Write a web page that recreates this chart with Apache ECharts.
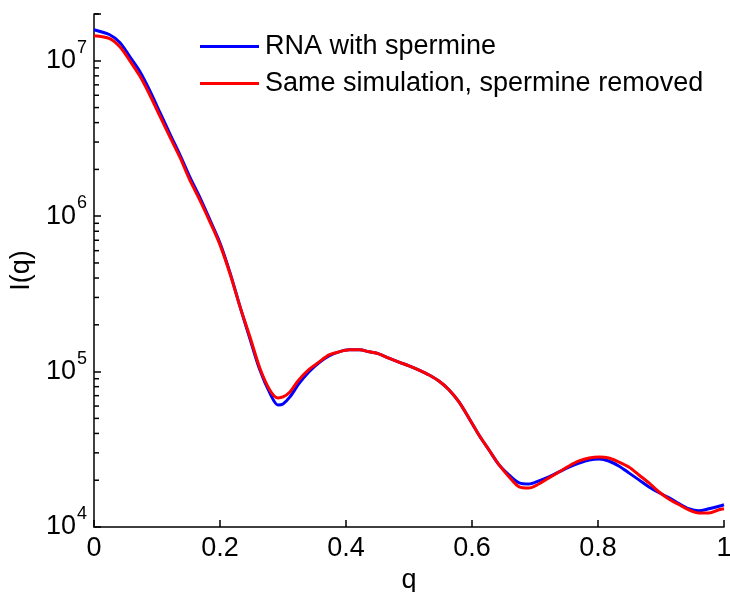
<!DOCTYPE html>
<html>
<head>
<meta charset="utf-8">
<script src="https://cdn.jsdelivr.net/npm/echarts@6/dist/echarts.min.js"></script>
<style>
html,body{margin:0;padding:0;background:#fff;}
#chart{width:730px;height:592px;}
</style>
</head>
<body>
<div id="chart"></div>
<script>
// q values (x)
var qBlue = [0.000,0.025,0.041,0.057,0.073,0.089,0.105,0.121,0.137,0.152,0.168,0.184,0.200,0.216,0.232,0.248,0.263,0.279,0.292,0.300,0.311,0.325,0.341,0.357,0.373,0.389,0.405,0.421,0.437,0.452,0.468,0.484,0.500,0.516,0.532,0.548,0.563,0.579,0.595,0.611,0.627,0.643,0.659,0.675,0.690,0.706,0.722,0.738,0.754,0.770,0.786,0.802,0.817,0.833,0.849,0.865,0.881,0.897,0.913,0.929,0.944,0.960,0.976,0.992,1.000];
var iBlue = [1.585e7,1.47e7,1.31e7,1.06e7,8.51e6,6.38e6,4.62e6,3.35e6,2.45e6,1.79e6,1.32e6,9.47e5,6.73e5,4.32e5,2.60e5,1.60e5,1.03e5,7.29e4,6.10e4,6.19e4,6.87e4,8.33e4,9.95e4,1.14e5,1.26e5,1.34e5,1.38e5,1.38e5,1.34e5,1.30e5,1.22e5,1.15e5,1.09e5,1.023e5,9.51e4,8.67e4,7.67e4,6.40e4,5.03e4,3.91e4,3.13e4,2.51e4,2.16e4,1.92e4,1.89e4,1.98e4,2.10e4,2.26e4,2.43e4,2.58e4,2.70e4,2.74e4,2.66e4,2.47e4,2.23e4,2.01e4,1.81e4,1.66e4,1.54e4,1.41e4,1.31e4,1.27e4,1.31e4,1.36e4,1.39e4];
var qRed = qBlue;
var iRed = [1.45e7,1.39e7,1.23e7,1.00e7,7.94e6,5.98e6,4.37e6,3.20e6,2.36e6,1.71e6,1.27e6,9.20e5,6.54e5,4.25e5,2.60e5,1.65e5,1.06e5,7.62e4,6.77e4,6.87e4,7.40e4,8.84e4,1.03e5,1.15e5,1.28e5,1.34e5,1.38e5,1.38e5,1.34e5,1.30e5,1.22e5,1.15e5,1.09e5,1.023e5,9.51e4,8.67e4,7.67e4,6.40e4,5.03e4,3.91e4,3.13e4,2.51e4,2.10e4,1.81e4,1.78e4,1.89e4,2.07e4,2.26e4,2.47e4,2.66e4,2.78e4,2.82e4,2.78e4,2.62e4,2.43e4,2.16e4,1.92e4,1.68e4,1.51e4,1.39e4,1.29e4,1.23e4,1.23e4,1.29e4,1.31e4];
var seriesNames = ['RNA with spermine', 'Same simulation, spermine removed'];
var xTicks = [0, 0.2, 0.4, 0.6, 0.8, 1];
var yMajorTicks = [1e4, 1e5, 1e6, 1e7];
var yMinorTicks = [2e4,3e4,4e4,5e4,6e4,7e4,8e4,9e4,2e5,3e5,4e5,5e5,6e5,7e5,8e5,9e5,2e6,3e6,4e6,5e6,6e6,7e6,8e6,9e6,2e7];

function pairs(xs, ys){ return xs.map(function(x,i){ return [x, ys[i]]; }); }

var FONT = '"Liberation Sans", Arial, sans-serif';
var chart = echarts.init(document.getElementById('chart'));
chart.setOption({
  animation: false,
  backgroundColor: '#fff',
  grid: {left: 94, right: 6, top: 14, bottom: 65, containLabel: false, outerBoundsMode: 'none'},
  legend: {
    orient: 'vertical',
    left: 195, top: 26,
    itemWidth: 59, itemHeight: 3, itemGap: 6,
    icon: 'rect',
    textStyle: {fontFamily: FONT, fontSize: 27, color: '#000', lineHeight: 31, padding: [0,0,0,1]},
    data: seriesNames
  },
  xAxis: {
    type: 'value', min: 0, max: 1, interval: 0.2,
    name: 'q', nameLocation: 'middle', nameGap: 40,
    nameTextStyle: {fontFamily: FONT, fontSize: 27, color: '#000'},
    axisLine: {show: true, onZero: false, lineStyle: {color: '#000', width: 1.5}},
    axisTick: {show: true, inside: true, length: 7, lineStyle: {color: '#000', width: 1.5}},
    axisLabel: {fontFamily: FONT, fontSize: 27, color: '#000', margin: 8,
      formatter: function(v){ return String(Math.round(v*10)/10); }},
    splitLine: {show: false}
  },
  yAxis: {
    type: 'log', logBase: 10, min: 1e4, max: 2e7, splitNumber: 3,
    name: 'I(q)', nameLocation: 'middle', nameGap: 56, nameRotate: 90,
    nameTextStyle: {fontFamily: FONT, fontSize: 27, color: '#000'},
    axisLine: {show: true, lineStyle: {color: '#000', width: 1.5}},
    axisTick: {show: true, inside: true, length: 7, lineStyle: {color: '#000', width: 1.5}},
    axisLabel: {
      margin: 7, color: '#000',
      formatter: function(v){
        var e = Math.log10(v);
        if (Math.abs(e - Math.round(e)) > 1e-6) return '';
        return '{b|10}{s|' + Math.round(e) + '}';
      },
      rich: {
        b: {fontFamily: FONT, fontSize: 27, color: '#000', lineHeight: 27},
        s: {fontFamily: FONT, fontSize: 18, color: '#000', lineHeight: 18, padding: [0,0,26,1]}
      }
    },
    splitLine: {show: false}
  },
  series: [
    {
      // minor ticks of the log axis, placed through the axis scale
      type: 'scatter', name: 'minor ticks', silent: true, clip: false, z: 5,
      data: yMinorTicks.map(function(v){ return [0, v]; }),
      symbol: 'rect', symbolSize: [5, 1.5], symbolOffset: [2.5, 0],
      itemStyle: {color: '#000', opacity: 1},
      emphasis: {disabled: true}
    },
    {
      type: 'line', name: seriesNames[0], data: pairs(qBlue, iBlue),
      showSymbol: false, smooth: 0.3, color: '#0000ff',
      lineStyle: {color: '#0000ff', width: 3}
    },
    {
      type: 'line', name: seriesNames[1], data: pairs(qRed, iRed),
      showSymbol: false, smooth: 0.3, color: '#ff0000',
      lineStyle: {color: '#ff0000', width: 3}
    }
  ]
});
</script>
</body>
</html>
